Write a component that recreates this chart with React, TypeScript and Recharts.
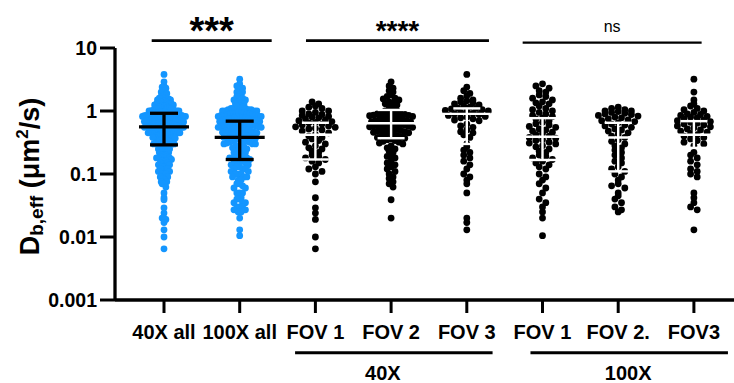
import React from 'react';
import { ScatterChart, Scatter, XAxis, YAxis, ReferenceLine } from 'recharts';

// ---------- data ----------
const categories = ['40X all', '100X all', 'FOV 1', 'FOV 2', 'FOV 3', 'FOV 1', 'FOV 2.', 'FOV3'];

const fov1_40x = [1.4, 1.3, 1.2, 1.15, 1.1, 1.0, 1.0, 0.95,
  0.9, 0.88, 0.85, 0.82, 0.8, 0.78, 0.75, 0.72, 0.7, 0.68, 0.66, 0.65, 0.62, 0.6, 0.58, 0.56, 0.55, 0.53, 0.52, 0.5,
  0.48, 0.45, 0.42, 0.4, 0.38, 0.36, 0.34, 0.32, 0.3, 0.28, 0.26, 0.25, 0.23, 0.22, 0.2, 0.19, 0.18,
  0.17, 0.16, 0.15, 0.13, 0.12, 0.11,
  0.1, 0.075, 0.042, 0.029, 0.024, 0.019, 0.01, 0.0065];

const fov2_40x = [2.9, 2.5, 2.3, 2.1, 2.0, 1.8, 1.7, 1.6, 1.55, 1.5, 1.4, 1.35, 1.3, 1.25, 1.2, 1.15,
  1.0, 1.0, 0.98, 0.96, 0.95, 0.93, 0.92, 0.9, 0.9, 0.88, 0.86, 0.85, 0.84, 0.82, 0.8, 0.8, 0.78, 0.76, 0.75, 0.74,
  0.72, 0.7, 0.7, 0.68, 0.67, 0.66, 0.65, 0.64, 0.63, 0.62, 0.61, 0.6, 0.6, 0.58, 0.57, 0.56, 0.55, 0.54, 0.53, 0.52, 0.51, 0.5,
  0.49, 0.48, 0.47, 0.46, 0.45, 0.44, 0.43, 0.42, 0.41, 0.4, 0.39, 0.38, 0.37, 0.36, 0.35, 0.34, 0.33, 0.32, 0.31, 0.3,
  0.28, 0.26, 0.25, 0.23, 0.22, 0.2, 0.19, 0.18, 0.16, 0.15, 0.14, 0.13, 0.12, 0.11, 0.1, 0.09, 0.085, 0.075, 0.07, 0.062,
  0.039, 0.02];

const fov3_40x = [3.8, 2.4, 2.1, 1.9, 1.75, 1.6, 1.5, 1.45, 1.4, 1.35, 1.3, 1.25, 1.2,
  1.15, 1.12, 1.1, 1.08, 1.05, 1.02, 1.0, 0.98, 0.95, 0.92, 0.9, 0.88, 0.85, 0.82, 0.8, 0.78, 0.75, 0.72, 0.7,
  0.62, 0.58, 0.55, 0.5, 0.47, 0.45, 0.42, 0.38,
  0.3, 0.27, 0.24, 0.22, 0.2, 0.18, 0.16, 0.14, 0.12, 0.1, 0.09, 0.08, 0.07,
  0.05, 0.02, 0.017, 0.013];

const fov1_100x = [2.7, 2.5, 2.3, 2.1, 2.0, 1.8, 1.7, 1.6, 1.5, 1.4, 1.35, 1.3,
  1.2, 1.1, 1.05, 1.0, 0.95, 0.9, 0.85, 0.82, 0.78, 0.75, 0.7, 0.66, 0.63, 0.6,
  0.57, 0.55, 0.52, 0.5, 0.48, 0.46, 0.44, 0.42, 0.4, 0.38, 0.37, 0.35, 0.34, 0.32, 0.31, 0.3, 0.28, 0.27,
  0.25, 0.23, 0.22, 0.2, 0.19, 0.18, 0.17, 0.16, 0.15, 0.14, 0.13, 0.12, 0.1, 0.09, 0.08, 0.07, 0.06, 0.05, 0.04, 0.035, 0.03, 0.025,
  0.02, 0.0105];

const fov2_100x = [1.15, 1.1, 1.05, 1.0, 1.0, 0.98, 0.95, 0.92, 0.9, 0.88, 0.85, 0.83, 0.8,
  0.78, 0.75, 0.72, 0.7, 0.68, 0.65, 0.62, 0.6, 0.58, 0.55, 0.52, 0.5, 0.48, 0.45, 0.43, 0.4,
  0.38, 0.35, 0.33, 0.3, 0.28, 0.26, 0.24, 0.22, 0.2, 0.18, 0.16, 0.15, 0.13, 0.12, 0.11, 0.1,
  0.09, 0.08, 0.07, 0.065, 0.06, 0.05, 0.045, 0.04, 0.035, 0.03, 0.027, 0.025];

const fov3_100x = [3.2, 2.0, 1.5, 1.3, 1.2, 1.1, 1.05, 1.0, 0.95,
  0.9, 0.88, 0.85, 0.82, 0.8, 0.78, 0.75, 0.72, 0.7, 0.68, 0.66, 0.64, 0.62, 0.6, 0.58, 0.56, 0.54, 0.52, 0.5, 0.48,
  0.46, 0.44, 0.42, 0.4, 0.38, 0.36, 0.34, 0.32, 0.3, 0.28,
  0.22, 0.2, 0.18, 0.16, 0.14, 0.12, 0.11, 0.1, 0.09,
  0.05, 0.042, 0.035, 0.03, 0.027, 0.013];

// pooled groups
const all_40x = [...fov1_40x, ...fov2_40x, ...fov3_40x];
const all_100x = [...fov1_100x, ...fov2_100x, ...fov3_100x];

// median and interquartile range, per category
const medians = [0.56, 0.38, 0.42, 0.64, 0.9, 0.39, 0.38, 0.42];
const q1s = [0.29, 0.17, 0.17, 0.37, 0.3, 0.167, 0.11, 0.26];
const q3s = [0.92, 0.69, 0.65, 1.04, 1.1, 0.77, 0.65, 0.69];

const yTicks = [0.001, 0.01, 0.1, 1, 10];
const yTickLabels = ['0.001', '0.01', '0.1', '1', '10'];

// ---------- style / layout ----------
const BLUE = '#1496FF';
const FONT = '"Liberation Sans", Arial, Helvetica, sans-serif';
const W = 734;
const H = 383;
const X_DOMAIN: [number, number] = [0.3527, 8.5297];
const PX_PER_CAT = 75.7;
const PX_PER_DECADE = 63;
const DOT_R = 3.4;
const ROW_H = 5.5;
const GAP = 6.6;
const MAX_HALF = 21.5;

type Pt = { x: number; y: number };

// Prism-like scatter layout: rows by value, one horizontal spacing per column
// (compressed so that the most crowded row fits in the column width)
function swarm(values: number[], cat: number): Pt[] {
  const sorted = [...values].sort((a, b) => b - a);
  const rows = new Map<number, number[]>();
  for (const v of sorted) {
    const key = Math.floor((Math.log10(v) * PX_PER_DECADE) / ROW_H);
    if (!rows.has(key)) rows.set(key, []);
    rows.get(key)!.push(v);
  }
  let maxN = 1;
  rows.forEach((vals) => { maxN = Math.max(maxN, vals.length); });
  const spacing = maxN > 1 ? Math.min(GAP, (2 * MAX_HALF) / (maxN - 1)) : 0;
  const out: Pt[] = [];
  rows.forEach((vals) => {
    const n = vals.length;
    const slots = vals.map((_, j) => (j - (n - 1) / 2) * spacing);
    const order = slots.map((s, j) => j).sort((a, b) => Math.abs(slots[a]) - Math.abs(slots[b]) || a - b);
    vals.forEach((v, k) => {
      out.push({ x: cat + slots[order[k]] / PX_PER_CAT, y: v });
    });
  });
  return out;
}

const groups = [
  { values: all_40x, color: BLUE },
  { values: all_100x, color: BLUE },
  { values: fov1_40x, color: '#000' },
  { values: fov2_40x, color: '#000' },
  { values: fov3_40x, color: '#000' },
  { values: fov1_100x, color: '#000' },
  { values: fov2_100x, color: '#000' },
  { values: fov3_100x, color: '#000' },
];

const isBlue = (i: number) => groups[i].color === BLUE;
const medianBlue = categories.map((c, i) => ({ x: i + 1, y: medians[i] })).filter((_, i) => isBlue(i));
const medianBlack = categories.map((c, i) => ({ x: i + 1, y: medians[i] })).filter((_, i) => !isBlue(i));
const capsBlue = categories.flatMap((c, i) => (isBlue(i) ? [{ x: i + 1, y: q1s[i] }, { x: i + 1, y: q3s[i] }] : []));
const capsBlack = categories.flatMap((c, i) => (!isBlue(i) ? [{ x: i + 1, y: q1s[i] }, { x: i + 1, y: q3s[i] }] : []));

const dotShape = (color: string) => (p: any) => (
  <circle cx={p.cx} cy={p.cy} r={DOT_R} fill={color} />
);
const hLineShape = (w: number, color: string, sw: number) => (p: any) => (
  <line x1={p.cx - w / 2} x2={p.cx + w / 2} y1={p.cy} y2={p.cy} stroke={color} strokeWidth={sw} />
);
const noShape = () => <g />;

const bracketLabel = (text: string, size: number, weight: string, dy: number) => (props: any) => {
  const vb = props.viewBox || {};
  return (
    <text x={vb.x + vb.width / 2} y={vb.y + dy} textAnchor="middle" fontSize={size} fontWeight={weight}
      fontFamily={FONT} fill="#000">{text}</text>
  );
};
const groupLabel = (text: string, dx: number, dy: number) => (props: any) => {
  const vb = props.viewBox || {};
  return (
    <text x={vb.x + vb.width / 2 + dx} y={vb.y + dy} textAnchor="middle" fontSize={20} fontWeight="bold"
      fontFamily={FONT} fill="#000">{text}</text>
  );
};

const YLabel = () => (
  <text x={38.5} y={176.5} transform="rotate(-90, 38.5, 176.5)" textAnchor="middle" fontFamily={FONT}
    fontWeight="bold" fill="#000" fontSize={27}>
    <tspan>D</tspan>
    <tspan fontSize={19} dy={4}>b,eff</tspan>
    <tspan dy={-4}> (μm</tspan>
    <tspan fontSize={17} dy={-11}>2</tspan>
    <tspan dy={11}>/s)</tspan>
  </text>
);

export default function App() {
  return (
    <div style={{ position: 'absolute', left: 0, top: 0, width: W, height: H, background: '#fff' }}>
      <ScatterChart width={W} height={H} margin={{ top: 48, right: 0, bottom: 0, left: 0 }}>
        <XAxis
          dataKey="x"
          type="number"
          domain={X_DOMAIN}
          allowDataOverflow
          ticks={[1, 2, 3, 4, 5, 6, 7, 8]}
          interval={0}
          tickFormatter={(v: number) => categories[Math.round(v) - 1] ?? ''}
          height={83}
          axisLine={{ stroke: '#000', strokeWidth: 3.3 }}
          tickLine={{ stroke: '#000', strokeWidth: 3 }}
          tickSize={13}
          tickMargin={12}
          tick={{ fill: '#000', fontSize: 20, fontWeight: 'bold', fontFamily: FONT }}
        />
        <YAxis
          dataKey="y"
          type="number"
          scale="log"
          domain={[0.001, 10]}
          allowDataOverflow
          ticks={yTicks}
          interval={0}
          tickFormatter={(v: number) => {
            let best = 0;
            yTicks.forEach((t, i) => { if (Math.abs(Math.log10(t) - Math.log10(v)) < Math.abs(Math.log10(yTicks[best]) - Math.log10(v))) best = i; });
            return yTickLabels[best];
          }}
          width={115}
          axisLine={{ stroke: '#000', strokeWidth: 3.3 }}
          tickLine={{ stroke: '#000', strokeWidth: 3 }}
          tickSize={15}
          tickMargin={3}
          tick={{ fill: '#000', fontSize: 19.5, fontWeight: 'bold', fontFamily: FONT }}
          label={{ content: () => <YLabel /> }}
        />

        {groups.map((g, i) => (
          <Scatter key={'g' + i} data={swarm(g.values, i + 1)} isAnimationActive={false} shape={dotShape(g.color)} />
        ))}

        {/* interquartile range: vertical bars (two-point series joined by the scatter line) */}
        {categories.map((c, i) => (
          <Scatter key={'iqr' + i} data={[{ x: i + 1, y: q1s[i] }, { x: i + 1, y: q3s[i] }]} isAnimationActive={false}
            shape={noShape} line={{ stroke: isBlue(i) ? '#000' : '#fff', strokeWidth: isBlue(i) ? 3.3 : 2.4 }} />
        ))}

        <Scatter data={capsBlue} isAnimationActive={false} shape={hLineShape(28, '#000', 3.3)} />
        <Scatter data={capsBlack} isAnimationActive={false} shape={hLineShape(27, '#fff', 2.4)} />
        <Scatter data={medianBlue} isAnimationActive={false} shape={hLineShape(50, '#000', 3.3)} />
        <Scatter data={medianBlack} isAnimationActive={false} shape={hLineShape(48, '#fff', 2.4)} />

        {/* significance brackets */}
        <ReferenceLine segment={[{ x: 0.8375, y: 13.1 }, { x: 2.4225, y: 13.1 }]} stroke="#000" strokeWidth={2.6}
          ifOverflow="visible" label={{ content: bracketLabel('***', 38, 'bold', 3) }} />
        <ReferenceLine segment={[{ x: 2.8756, y: 13.1 }, { x: 5.2927, y: 13.1 }]} stroke="#000" strokeWidth={2.6}
          ifOverflow="visible" label={{ content: bracketLabel('****', 28, 'bold', -0.7) }} />
        <ReferenceLine segment={[{ x: 5.7378, y: 12.14 }, { x: 8.102, y: 12.14 }]} stroke="#000" strokeWidth={2.2}
          ifOverflow="visible" label={{ content: bracketLabel('ns', 16, 'normal', -11) }} />

        {/* group lines below the axis */}
        <ReferenceLine segment={[{ x: 2.7315, y: 0.0001457 }, { x: 5.3405, y: 0.0001457 }]} stroke="#000" strokeWidth={3}
          ifOverflow="visible" label={{ content: groupLabel('40X', -11, 27.5) }} />
        <ReferenceLine segment={[{ x: 5.8410, y: 0.0001457 }, { x: 8.4497, y: 0.0001457 }]} stroke="#000" strokeWidth={3}
          ifOverflow="visible" label={{ content: groupLabel('100X', -1, 27.5) }} />
      </ScatterChart>
    </div>
  );
}
